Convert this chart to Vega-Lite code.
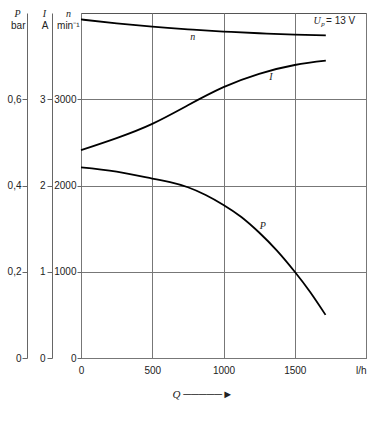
{
  "$schema": "https://vega.github.io/schema/vega-lite/v6.json",
  "width": 285,
  "height": 345,
  "autosize": "none",
  "padding": {"left": 81, "top": 13, "right": 12, "bottom": 66},
  "background": "white",
  "config": {
    "font": "Liberation Sans",
    "view": {"stroke": "#555", "strokeWidth": 1},
    "axis": {
      "labelFont": "Liberation Sans",
      "labelFontSize": 10,
      "labelColor": "#222",
      "titleFont": "Liberation Sans",
      "titleFontSize": 10,
      "titleFontWeight": "normal",
      "titleColor": "#222",
      "domainColor": "#666",
      "tickColor": "#666",
      "gridColor": "#777",
      "gridOpacity": 1,
      "labelOverlap": false,
      "labelFlush": false,
      "labelBound": false
    }
  },
  "datasets": {
    "speed": [
      {"Q": 0, "n": 3925}, {"Q": 250, "n": 3880}, {"Q": 500, "n": 3842}, {"Q": 750, "n": 3810},
      {"Q": 1000, "n": 3785}, {"Q": 1250, "n": 3765}, {"Q": 1500, "n": 3750}, {"Q": 1718, "n": 3741}
    ],
    "current": [
      {"Q": 0, "I": 2.41}, {"Q": 250, "I": 2.55}, {"Q": 500, "I": 2.715}, {"Q": 750, "I": 2.93},
      {"Q": 1000, "I": 3.14}, {"Q": 1250, "I": 3.295}, {"Q": 1500, "I": 3.397}, {"Q": 1718, "I": 3.447}
    ],
    "pressure": [
      {"Q": 0, "P": 0.442}, {"Q": 250, "P": 0.432}, {"Q": 500, "P": 0.416}, {"Q": 625, "P": 0.408},
      {"Q": 750, "P": 0.396}, {"Q": 875, "P": 0.378}, {"Q": 1000, "P": 0.355}, {"Q": 1125, "P": 0.327},
      {"Q": 1250, "P": 0.291}, {"Q": 1375, "P": 0.249}, {"Q": 1500, "P": 0.200}, {"Q": 1608, "P": 0.153},
      {"Q": 1716, "P": 0.100}
    ],
    "curveLabels": [
      {"Q": 785, "v": 3722, "t": "n"}, {"Q": 1332, "v": 3258, "t": "I"}, {"Q": 1276, "v": 1530, "t": "P"}
    ],
    "voltSym": [{"Q": 1632, "v": 3907, "t": "U"}],
    "voltSub": [{"Q": 1686, "v": 3868, "t": "p"}],
    "voltVal": [{"Q": 1720, "v": 3907, "t": "= 13 V"}]
  },
  "encoding": {
    "x": {
      "field": "Q", "type": "quantitative",
      "scale": {"domain": [0, 2000], "nice": false},
      "axis": {
        "values": [0, 500, 1000, 1500, 2000],
        "format": "d",
        "labelExpr": "datum.value == 2000 ? 'l/h' : datum.label",
        "labelAlign": {"expr": "datum.value == 2000 ? 'right' : 'center'"},
        "grid": true,
        "ticks": false,
        "domain": false,
        "labelPadding": 7,
        "title": "Q ─────►",
        "titleFont": "Liberation Serif",
        "titleFontStyle": "italic",
        "titleFontSize": 11,
        "titleAlign": "left",
        "titleBaseline": "middle",
        "titleX": 91,
        "titleY": 36
      }
    }
  },
  "layer": [
    {
      "data": {"name": "speed"},
      "mark": {"type": "line", "color": "black", "strokeWidth": 1.8, "interpolate": "natural"},
      "encoding": {
        "y": {
          "field": "n", "type": "quantitative",
          "scale": {"domain": [0, 4000], "nice": false},
          "axis": {
            "orient": "left", "offset": 0,
            "values": [0, 1000, 2000, 3000], "format": "d",
            "grid": true, "domain": false, "tickSize": 4, "labelPadding": 1,
            "title": "min⁻¹", "titleAngle": 0, "titleAlign": "right", "titleBaseline": "alphabetic",
            "titleX": -2, "titleY": 15
          }
        }
      }
    },
    {
      "data": {"name": "speed"},
      "mark": {"type": "line", "opacity": 0},
      "encoding": {
        "y": {
          "field": "n", "type": "quantitative",
          "scale": {"domain": [0, 4000], "nice": false},
          "axis": {
            "orient": "left", "offset": 0, "labels": false, "ticks": false, "domain": false, "grid": false,
            "title": "n", "titleFont": "Liberation Serif", "titleFontStyle": "italic", "titleFontSize": 10,
            "titleAngle": 0, "titleAlign": "center", "titleBaseline": "alphabetic", "titleX": -13, "titleY": 3
          }
        }
      }
    },
    {
      "data": {"name": "current"},
      "mark": {"type": "line", "color": "black", "strokeWidth": 1.8, "interpolate": "natural"},
      "encoding": {
        "y": {
          "field": "I", "type": "quantitative",
          "scale": {"domain": [0, 4], "nice": false},
          "axis": {
            "orient": "left", "offset": 29,
            "values": [0, 1, 2, 3], "format": "d",
            "grid": false, "domain": true, "tickSize": 5, "labelPadding": 2,
            "title": "A", "titleAngle": 0, "titleAlign": "right", "titleBaseline": "alphabetic",
            "titleX": -4, "titleY": 15
          }
        }
      }
    },
    {
      "data": {"name": "current"},
      "mark": {"type": "line", "opacity": 0},
      "encoding": {
        "y": {
          "field": "I", "type": "quantitative",
          "scale": {"domain": [0, 4], "nice": false},
          "axis": {
            "orient": "left", "offset": 29, "labels": false, "ticks": false, "domain": false, "grid": false,
            "title": "I", "titleFont": "Liberation Serif", "titleFontStyle": "italic", "titleFontSize": 10,
            "titleAngle": 0, "titleAlign": "center", "titleBaseline": "alphabetic", "titleX": -8, "titleY": 3
          }
        }
      }
    },
    {
      "data": {"name": "pressure"},
      "mark": {"type": "line", "color": "black", "strokeWidth": 1.8, "interpolate": "natural"},
      "encoding": {
        "y": {
          "field": "P", "type": "quantitative",
          "scale": {"domain": [0, 0.8], "nice": false},
          "axis": {
            "orient": "left", "offset": 54,
            "values": [0, 0.2, 0.4, 0.6],
            "labelExpr": "datum.value == 0 ? '0' : replace(format(datum.value, '.1f'), '.', ',')",
            "grid": false, "domain": true, "tickSize": 5, "labelPadding": 1,
            "title": "bar", "titleAngle": 0, "titleAlign": "right", "titleBaseline": "alphabetic",
            "titleX": -2, "titleY": 15
          }
        }
      }
    },
    {
      "data": {"name": "pressure"},
      "mark": {"type": "line", "opacity": 0},
      "encoding": {
        "y": {
          "field": "P", "type": "quantitative",
          "scale": {"domain": [0, 0.8], "nice": false},
          "axis": {
            "orient": "left", "offset": 54, "labels": false, "ticks": false, "domain": false, "grid": false,
            "title": "P", "titleFont": "Liberation Serif", "titleFontStyle": "italic", "titleFontSize": 10,
            "titleAngle": 0, "titleAlign": "center", "titleBaseline": "alphabetic", "titleX": -10, "titleY": 3
          }
        }
      }
    },
    {
      "data": {"name": "curveLabels"},
      "mark": {"type": "text", "font": "Liberation Serif", "fontStyle": "italic", "fontSize": 10, "color": "#222"},
      "encoding": {
        "y": {"field": "v", "type": "quantitative", "scale": {"domain": [0, 4000], "nice": false}, "axis": null},
        "text": {"field": "t"}
      }
    },
    {
      "data": {"name": "voltSym"},
      "mark": {"type": "text", "font": "Liberation Serif", "fontStyle": "italic", "fontSize": 10, "color": "#222", "align": "left"},
      "encoding": {
        "y": {"field": "v", "type": "quantitative", "scale": {"domain": [0, 4000], "nice": false}, "axis": null},
        "text": {"field": "t"}
      }
    },
    {
      "data": {"name": "voltSub"},
      "mark": {"type": "text", "font": "Liberation Serif", "fontStyle": "italic", "fontSize": 7, "color": "#222", "align": "left"},
      "encoding": {
        "y": {"field": "v", "type": "quantitative", "scale": {"domain": [0, 4000], "nice": false}, "axis": null},
        "text": {"field": "t"}
      }
    },
    {
      "data": {"name": "voltVal"},
      "mark": {"type": "text", "font": "Liberation Sans", "fontSize": 10, "color": "#222", "align": "left"},
      "encoding": {
        "y": {"field": "v", "type": "quantitative", "scale": {"domain": [0, 4000], "nice": false}, "axis": null},
        "text": {"field": "t"}
      }
    }
  ],
  "resolve": {"scale": {"y": "independent"}}
}
